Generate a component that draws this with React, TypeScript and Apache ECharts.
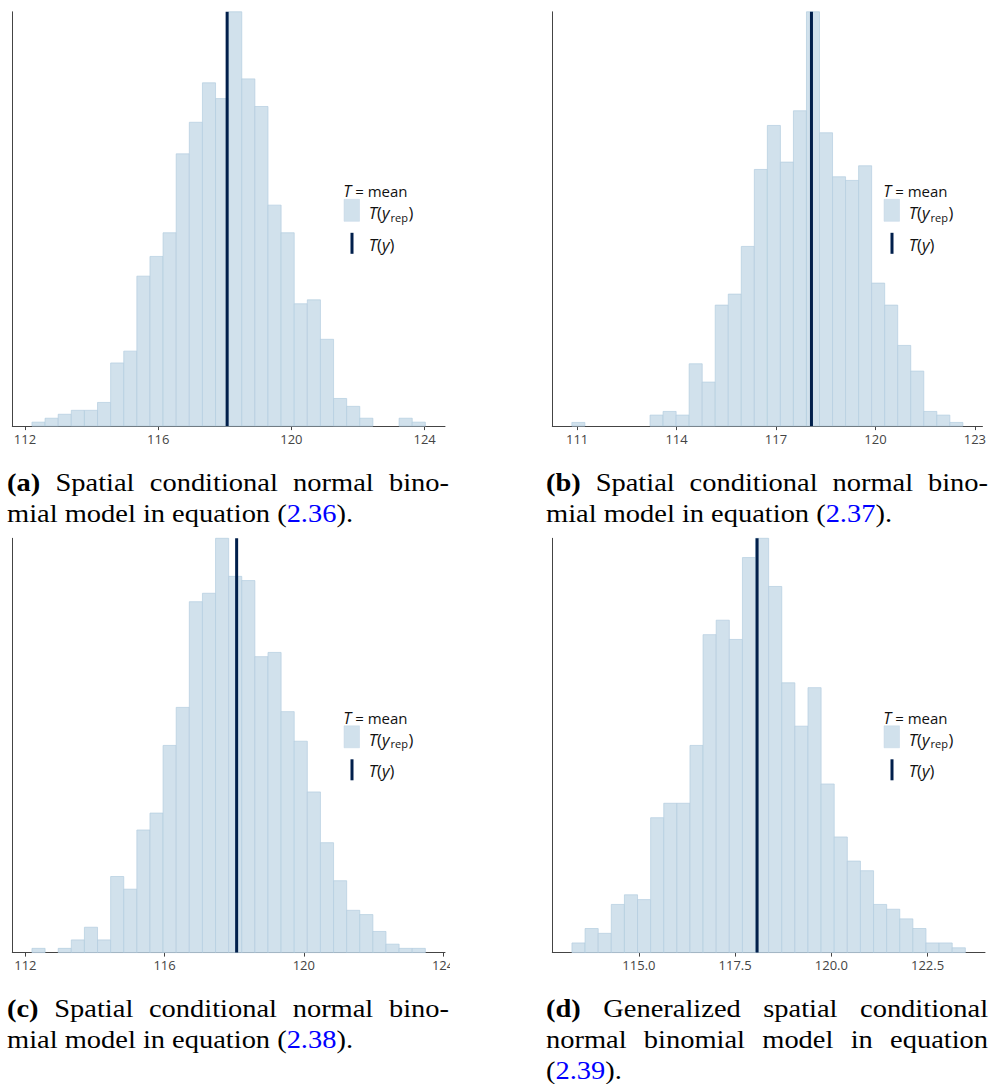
import React, { useEffect, useRef } from "react";
import * as echarts from "echarts";

// ---------- data ----------
const countsA = [1, 2, 3, 4, 4, 6, 16, 19, 38, 43, 49, 69, 77, 87, 83, 105, 88, 81, 56, 49, 31, 32, 22, 7, 5, 2, 0, 0, 2, 1];
const countsB = [1, 0, 0, 0, 0, 0, 3, 4, 3, 17, 12, 33, 36, 49, 70, 82, 72, 86, 113, 80, 68, 67, 71, 39, 33, 22, 15, 4, 3, 1];
const countsC = [1, 0, 1, 3, 6, 3, 18, 15, 29, 33, 49, 58, 83, 85, 98, 89, 88, 70, 71, 57, 50, 38, 26, 17, 10, 9, 5, 2, 1, 1];
const countsD = [2, 5, 4, 10, 12, 11, 28, 31, 31, 43, 66, 69, 65, 82, 86, 76, 56, 47, 55, 35, 24, 19, 17, 10, 9, 7, 5, 2, 2, 1];

const binStarts = [112.21, 110.84, 112.19, 113.26];
const binWidths = [0.3937, 0.3933, 0.3767, 0.3407];

const ticksA = [112, 116, 120, 124];
const ticksB = [111, 114, 117, 120, 123];
const ticksC = [112, 116, 120, 124];
const ticksD = [115, 117.5, 120, 122.5];
const tickDecimals = [0, 0, 0, 1];

const observedMean = 118.07;

const captionA = ["(a) Spatial conditional normal bino-", "mial model in equation (2.36)."];
const captionB = ["(b) Spatial conditional normal bino-", "mial model in equation (2.37)."];
const captionC = ["(c) Spatial conditional normal bino-", "mial model in equation (2.38)."];
const captionD = ["(d) Generalized spatial conditional", "normal binomial model in equation", "(2.39)."];

// ---------- layout ----------
const W = 989;
const H = 1084;
const GRID_W = 432.7;
const GRID_H = 414.3;
const LEFTS = [12.3, 552.3];
const TOPS = [11.8, 538.3];
const CAP_LEFT = [7, 546];
const CAP_RIGHT = [449, 988];
const CAP_BASE = [490.5, 1016.8];
const CAP_GAP = 31;
const CAP_FONT = 24.6;
const CAP_REF_WIDTH = 346;

const FILL = "#d1e1ec";
const EDGE = "#b3cde0";
const DARK = "#011f4b";
const AXIS = "#444444";
const SANS = '"Open Sans", "DejaVu Sans", sans-serif';
const SERIF = '"Liberation Serif", "Times New Roman", serif';

const panels = [
  { counts: countsA, ticks: ticksA, caption: captionA },
  { counts: countsB, ticks: ticksB, caption: captionB },
  { counts: countsC, ticks: ticksC, caption: captionC },
  { counts: countsD, ticks: ticksD, caption: captionD },
];

let ctx: CanvasRenderingContext2D | null = null;
function measure(text: string, font: string): number {
  if (!ctx) ctx = document.createElement("canvas").getContext("2d");
  ctx!.font = font;
  return ctx!.measureText(text).width;
}

function buildCaption(lines: string[], left: number, right: number, base0: number, F: number, s: number) {
  const els: any[] = [];
  const reg = `${F}px ${SERIF}`;
  const bold = `bold ${F}px ${SERIF}`;
  const space = measure(" ", reg) * s;
  lines.forEach((line, li) => {
    const words = line.split(" ");
    const justify = li < lines.length - 1 && words.length > 1;
    const widths = words.map((w, wi) => measure(w, li === 0 && wi === 0 ? bold : reg) * s);
    const total = widths.reduce((a, b) => a + b, 0);
    const gap = justify ? (right - left - total) / (words.length - 1) : space;
    const y = base0 + li * CAP_GAP - 0.3375 * F;
    let x = left;
    words.forEach((w, wi) => {
      const isBold = li === 0 && wi === 0;
      const m = w.match(/^\((\d+\.\d+)\)(.*)$/);
      const style: any = {
        x: 0,
        y: 0,
        fontSize: F,
        fontFamily: SERIF,
        fontWeight: isBold ? "bold" : "normal",
        fill: "#000",
        align: "left",
        verticalAlign: "middle",
      };
      if (m) {
        style.text = `{k|(}{u|${m[1]}}{k|)${m[2]}}`;
        style.rich = {
          k: { fill: "#000", fontSize: F, fontFamily: SERIF },
          u: { fill: "#0000ff", fontSize: F, fontFamily: SERIF },
        };
      } else {
        style.text = w;
      }
      els.push({ type: "text", x, y, scaleX: s, z: 50, style });
      x += widths[wi] + gap;
    });
  });
  return els;
}

function buildLegend(gl: number, gt: number) {
  const els: any[] = [];
  const MF = 16.5;
  const LH = 13;
  const itF = `italic ${MF}px ${SANS}`;
  const rF = `${MF}px ${SANS}`;
  const rich = {
    i: { fontStyle: "italic", fontSize: MF, fontFamily: SANS, fill: "#111", lineHeight: LH },
    r: { fontSize: MF, fontFamily: SANS, fill: "#111", lineHeight: LH },
  };
  // title
  els.push({
    type: "text",
    x: gl + 331,
    y: gt + 179.5,
    z: 50,
    style: {
      text: "{i|T}{r| = mean}",
      verticalAlign: "middle",
      align: "left",
      rich: {
        i: { fontStyle: "italic", fontSize: 16, fontFamily: SANS, fill: "#111", lineHeight: 12 },
        r: { fontSize: 15, fontFamily: SANS, fill: "#111", lineHeight: 12 },
      },
    },
  });
  els.push({
    type: "rect",
    z: 50,
    shape: { x: gl + 331.7, y: gt + 187.5, width: 15.5, height: 22 },
    style: { fill: FILL, stroke: "#c4d7e6", lineWidth: 0.5 },
  });
  // T(y_rep)
  const x0 = gl + 356.5;
  const yR = gt + 200.8;
  const w1 = measure("T", itF) + measure("(", rF) + measure("y", itF);
  els.push({
    type: "text",
    x: x0,
    y: yR,
    z: 50,
    style: { text: "{i|T}{r|(}{i|y}", verticalAlign: "middle", align: "left", rich },
  });
  const wRep = measure("rep", `11px ${SANS}`);
  els.push({
    type: "text",
    x: x0 + w1 + 1,
    y: yR + 4.5,
    z: 50,
    style: {
      text: "rep",
      fontSize: 11,
      lineHeight: 9,
      fontFamily: SANS,
      fill: "#111",
      verticalAlign: "middle",
      align: "left",
    },
  });
  els.push({
    type: "text",
    x: x0 + w1 + wRep + 1.5,
    y: yR,
    z: 50,
    style: {
      text: ")",
      fontSize: MF,
      lineHeight: LH,
      fontFamily: SANS,
      fill: "#111",
      verticalAlign: "middle",
      align: "left",
    },
  });
  // T(y) line
  els.push({
    type: "line",
    z: 50,
    shape: { x1: gl + 339.7, y1: gt + 221, x2: gl + 339.7, y2: gt + 242 },
    style: { stroke: DARK, lineWidth: 3 },
  });
  els.push({
    type: "text",
    x: x0,
    y: gt + 232.5,
    z: 50,
    style: { text: "{i|T}{r|(}{i|y}{r|)}", verticalAlign: "middle", align: "left", rich },
  });
  return els;
}

export default function App() {
  const ref = useRef<HTMLDivElement>(null);
  useEffect(() => {
    if (!ref.current) return;
    const chart = echarts.init(ref.current, undefined, { renderer: "svg", width: W, height: H });

    // horizontal stretch so the serif caption matches the reference's wider face
    const F = CAP_FONT;
    const natural = measure("mial model in equation (2.36).", `${F}px ${SERIF}`);
    let s = CAP_REF_WIDTH / natural;
    s = Math.max(0.85, Math.min(1.3, s));

    const grids: any[] = [];
    const xAxes: any[] = [];
    const yAxes: any[] = [];
    const series: any[] = [];
    let graphics: any[] = [];

    panels.forEach((p, i) => {
      const col = i % 2;
      const row = Math.floor(i / 2);
      const gl = LEFTS[col];
      const gt = TOPS[row];
      const start = binStarts[i];
      const w = binWidths[i];
      const n = p.counts.length;
      const pad = 0.05 * n * w;
      const yMax = Math.max(...p.counts);
      grids.push({ left: gl, top: gt, width: GRID_W, height: GRID_H, containLabel: false });
      xAxes.push({
        type: "value",
        gridIndex: i,
        min: start - pad,
        max: start + n * w + pad,
        axisLine: { show: true, onZero: false, lineStyle: { color: AXIS, width: 1 } },
        axisTick: { show: true, length: 4, customValues: p.ticks, lineStyle: { color: AXIS } },
        axisLabel: {
          show: true,
          customValues: p.ticks,
          formatter: (v: number) => v.toFixed(tickDecimals[i]),
          color: "#444",
          fontSize: 13,
          fontFamily: SANS,
          margin: 6,
        },
        splitLine: { show: false },
      });
      yAxes.push({
        type: "value",
        gridIndex: i,
        min: 0,
        max: yMax,
        axisLine: { show: true, onZero: false, lineStyle: { color: AXIS, width: 1 } },
        axisTick: { show: false },
        axisLabel: { show: false },
        splitLine: { show: false },
      });
      series.push({
        type: "custom",
        xAxisIndex: i,
        yAxisIndex: i,
        encode: { x: [0, 1], y: 2 },
        data: p.counts.map((c, k) => [start + k * w, start + (k + 1) * w, c]),
        renderItem: (params: any, api: any) => {
          const c = api.value(2);
          if (!c) return null;
          const p0 = api.coord([api.value(0), c]);
          const p1 = api.coord([api.value(1), 0]);
          return {
            type: "rect",
            shape: { x: p0[0], y: p0[1], width: p1[0] - p0[0], height: p1[1] - p0[1] },
            style: { fill: FILL, stroke: EDGE, lineWidth: 0.7 },
          };
        },
        z: 2,
      });
      series.push({
        type: "custom",
        xAxisIndex: i,
        yAxisIndex: i,
        encode: { x: 0, y: 1 },
        data: [[observedMean, yMax]],
        renderItem: (params: any, api: any) => {
          const a = api.coord([api.value(0), 0]);
          const b = api.coord([api.value(0), api.value(1)]);
          return {
            type: "line",
            shape: { x1: a[0], y1: a[1], x2: b[0], y2: b[1] },
            style: { stroke: DARK, lineWidth: 3 },
          };
        },
        z: 3,
      });
      graphics = graphics.concat(buildLegend(gl, gt));
      graphics = graphics.concat(buildCaption(p.caption, CAP_LEFT[col], CAP_RIGHT[col], CAP_BASE[row], F, s));
    });

    // the reference crops panel (c)'s last tick label at its right edge
    graphics.push({
      type: "rect",
      z: 100,
      shape: { x: 450, y: 956, width: 20, height: 24 },
      style: { fill: "#ffffff" },
    });

    chart.setOption({
      animation: false,
      backgroundColor: "#ffffff",
      grid: grids,
      xAxis: xAxes,
      yAxis: yAxes,
      series,
      graphic: { elements: graphics },
    });
    return () => chart.dispose();
  }, []);

  return <div ref={ref} style={{ position: "absolute", left: 0, top: 0, width: W, height: H }} />;
}
